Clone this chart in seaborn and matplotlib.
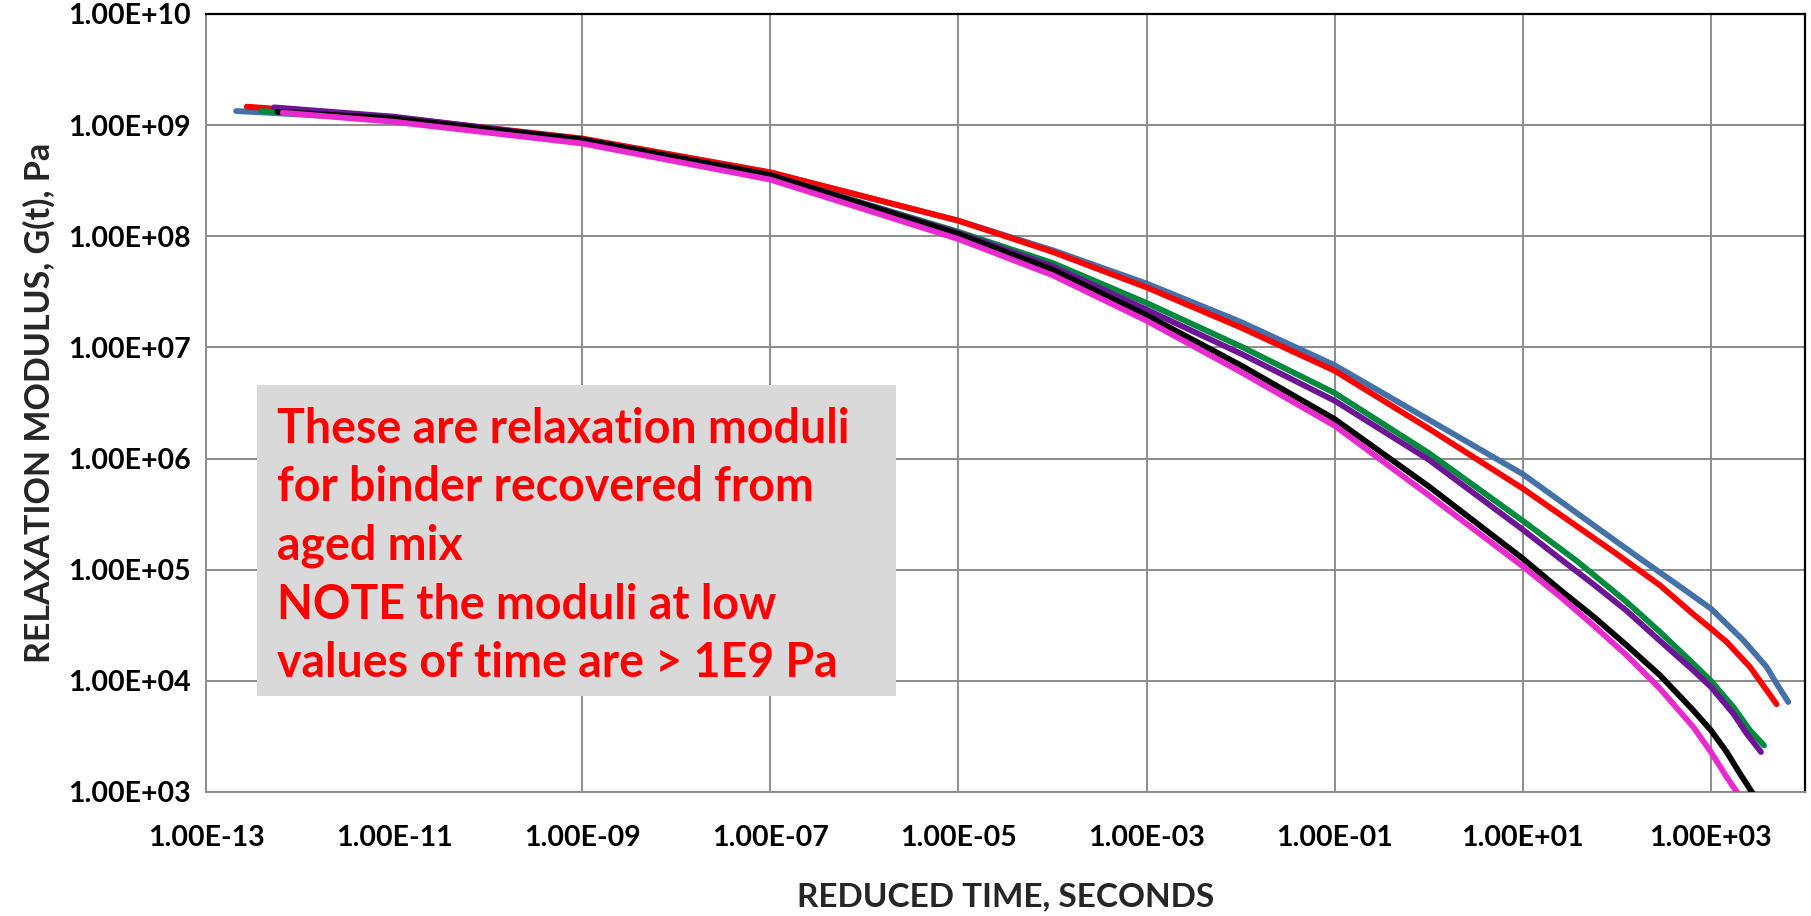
import numpy as np
import pandas as pd
import matplotlib
matplotlib.use("Agg")
import matplotlib.pyplot as plt
from matplotlib.patches import Rectangle
from matplotlib.ticker import FixedLocator, FuncFormatter, NullLocator
import seaborn as sns

# log10 of reduced time (s) and log10 of relaxation modulus G(t) (Pa), per binder
blue_log_t = [-12.68, -11, -9, -7, -5, -4, -3, -2, -1, 0, 1, 2, 2.281, 2.635, 3.0, 3.344, 3.592, 3.698, 3.822]
blue_log_g = [9.127, 9.05, 8.875, 8.575, 8.14, 7.875, 7.575, 7.23, 6.84, 6.35, 5.86, 5.25, 5.08, 4.87, 4.65, 4.365, 4.125, 3.975, 3.81]

red_log_t = [-12.567, -11, -9, -7, -5, -4, -3, -2, -1, 0, 1, 2, 2.458, 2.812, 3.0, 3.167, 3.415, 3.521, 3.698]
red_log_g = [9.166, 9.07, 8.88, 8.575, 8.14, 7.86, 7.54, 7.18, 6.79, 6.27, 5.73, 5.14, 4.86, 4.60, 4.47, 4.35, 4.125, 4.0, 3.79]

green_log_t = [-12.41, -11, -9, -7, -5, -4, -3, -2, -1, 0, 1, 1.572, 2.104, 2.458, 2.812, 3.0, 3.238, 3.415, 3.564]
green_log_g = [9.127, 9.05, 8.865, 8.55, 8.04, 7.76, 7.40, 7.01, 6.59, 6.05, 5.44, 5.08, 4.71, 4.44, 4.155, 4.0, 3.765, 3.555, 3.42]

purple_log_t = [-12.277, -11, -9, -7, -5, -4, -3, -2, -1, 0, 1, 1.395, 1.749, 2.104, 2.458, 2.812, 3.0, 3.238, 3.38, 3.532]
purple_log_g = [9.16, 9.076, 8.87, 8.55, 8.03, 7.73, 7.34, 6.945, 6.52, 5.99, 5.36, 5.10, 4.87, 4.63, 4.36, 4.094, 3.945, 3.705, 3.525, 3.36]

black_log_t = [-12.24, -11, -9, -7, -5, -4, -3, -2, -1, 0, 1, 1.395, 1.749, 2.104, 2.458, 2.812, 3.0, 3.167, 3.309, 3.45]
black_log_g = [9.12, 9.06, 8.87, 8.55, 8.02, 7.70, 7.29, 6.84, 6.355, 5.75, 5.10, 4.82, 4.58, 4.32, 4.05, 3.735, 3.555, 3.36, 3.165, 2.98]

magenta_log_t = [-12.185, -11, -9, -7, -5, -4, -3, -2, -1, 0, 1, 1.395, 1.749, 2.104, 2.458, 2.812, 3.0, 3.167, 3.30]
magenta_log_g = [9.112, 9.03, 8.835, 8.51, 7.975, 7.65, 7.24, 6.78, 6.295, 5.67, 5.03, 4.76, 4.50, 4.23, 3.93, 3.585, 3.36, 3.135, 2.97]

series_names = ["blue", "red", "green", "purple", "black", "magenta"]
series_colors = ["#4472A8", "#FF0000", "#008A3E", "#6E1496", "#000000", "#E82ACF"]

x_tick_exps = [-13, -11, -9, -7, -5, -3, -1, 1, 3]
y_tick_exps = [3, 4, 5, 6, 7, 8, 9, 10]

note_text = ("These are relaxation moduli\n"
             "for binder recovered from\n"
             "aged mix\n"
             "NOTE the moduli at low\n"
             "values of time are > 1E9 Pa")

series_data = {
    "blue": (blue_log_t, blue_log_g),
    "red": (red_log_t, red_log_g),
    "green": (green_log_t, green_log_g),
    "purple": (purple_log_t, purple_log_g),
    "black": (black_log_t, black_log_g),
    "magenta": (magenta_log_t, magenta_log_g),
}

frames = []
for name in series_names:
    lt, lg = series_data[name]
    frames.append(pd.DataFrame({
        "t": np.power(10.0, lt),
        "G": np.power(10.0, lg),
        "binder": name,
    }))
df = pd.concat(frames, ignore_index=True)

sns.set_theme(style="white")
plt.rcParams["font.family"] = ["Lato", "DejaVu Sans"]
plt.rcParams["font.weight"] = "bold"
plt.rcParams["axes.labelweight"] = "bold"

W, H = 1811, 916
fig = plt.figure(figsize=(W / 100, H / 100), dpi=100)
ax_left, ax_right, ax_top, ax_bottom = 206, 1805, 14, 792
ax = fig.add_axes([ax_left / W, 1 - ax_bottom / H, (ax_right - ax_left) / W, (ax_bottom - ax_top) / H])

grid_gray = "#8C8C8C"

sns.lineplot(data=df, x="t", y="G", hue="binder", hue_order=series_names,
             palette=dict(zip(series_names, series_colors)), estimator=None,
             sort=False, units="binder", legend=False, linewidth=4.2, ax=ax,
             solid_capstyle="round", solid_joinstyle="round", zorder=3)

ax.set_xscale("log")
ax.set_yscale("log")
ax.set_xlim(1e-13, 1e4)
ax.set_ylim(1e3, 1e10)


def sci_label(v, pos):
    e = int(round(np.log10(v)))
    sign = "+" if e >= 0 else "-"
    return f"1.00E{sign}{abs(e):02d}"


ax.xaxis.set_major_locator(FixedLocator([10.0 ** e for e in x_tick_exps]))
ax.yaxis.set_major_locator(FixedLocator([10.0 ** e for e in y_tick_exps]))
ax.xaxis.set_minor_locator(NullLocator())
ax.yaxis.set_minor_locator(NullLocator())
ax.xaxis.set_major_formatter(FuncFormatter(sci_label))
ax.yaxis.set_major_formatter(FuncFormatter(sci_label))

ax.grid(True, which="major", color=grid_gray, linewidth=1.4, zorder=0)
ax.set_axisbelow(True)
# the 1E-11 column carries a tick mark but no vertical gridline
ax.xaxis.get_gridlines()[1].set_visible(False)

ax.tick_params(axis="both", which="major", direction="out", length=7, width=1.4,
               color=grid_gray, labelsize=20.5, labelcolor="black")
ax.tick_params(axis="x", pad=17)
ax.tick_params(axis="y", pad=4)

ax.spines["left"].set_color(grid_gray)
ax.spines["bottom"].set_color(grid_gray)
ax.spines["left"].set_linewidth(1.4)
ax.spines["bottom"].set_linewidth(1.4)
ax.spines["top"].set_color("black")
ax.spines["right"].set_color("black")
ax.spines["top"].set_linewidth(1.6)
ax.spines["right"].set_linewidth(1.6)

ax.set_xlabel("REDUCED TIME, SECONDS", fontsize=24, fontweight="bold", labelpad=22)
ax.set_ylabel("RELAXATION MODULUS, G(t), Pa", fontsize=24.5, fontweight="bold", labelpad=9)

# annotation panel
box_l, box_t, box_r, box_b = 257, 385, 896, 696
ax.add_patch(Rectangle((box_l / W, 1 - box_b / H), (box_r - box_l) / W, (box_b - box_t) / H,
                       transform=fig.transFigure, facecolor="#D9D9D9", edgecolor="none",
                       zorder=2, clip_on=False))
fig.text(277 / W, 1 - 407 / H, note_text, color="#FF0000", fontsize=33.5, fontweight="bold",
         ha="left", va="top", linespacing=1.40, zorder=10)

fig.savefig("out.png", dpi=100, facecolor="white")
